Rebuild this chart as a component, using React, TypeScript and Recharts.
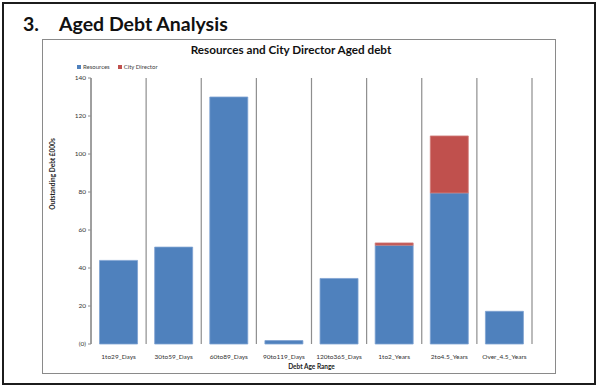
import React from "react";
import { BarChart, Bar, XAxis, YAxis, CartesianGrid } from "recharts";

const CATEGORIES = [
  "1to29_Days",
  "30to59_Days",
  "60to89_Days",
  "90to119_Days",
  "120to365_Days",
  "1to2_Years",
  "2to4.5_Years",
  "Over_4.5_Years",
];
const RESOURCES = [44, 51, 130, 1.8, 34.5, 52, 79.5, 17.2];
const CITY_DIRECTOR = [0, 0, 0, 0, 0, 1.2, 30, 0];
const Y_TICKS = [0, 20, 40, 60, 80, 100, 120, 140];
const BOUNDARY_TICKS = [0, 1, 2, 3, 4, 5, 6, 7, 8];

const BLUE = "#4f81bd";
const RED = "#c0504d";
const GRID = "#8e8e8e";
const FONT = "Lato, 'Open Sans', sans-serif";

const SERIES = [
  { key: "resources", name: "Resources", fill: BLUE, stroke: "#7fa2d2" },
  { key: "city", name: "City Director", fill: RED, stroke: "#d17e7b" },
];

const data = CATEGORIES.map((name, i) => ({
  name,
  resources: RESOURCES[i],
  city: CITY_DIRECTOR[i],
  pos: i + 0.5,
}));

const tickStyle = { fontFamily: FONT, fontSize: 6.5, fill: "#333" };

const YLabel = (props: any) => {
  const { viewBox } = props;
  const x = viewBox.x + 9;
  const y = viewBox.y + viewBox.height / 2 - 37;
  return (
    <text
      x={x}
      y={y}
      transform={`rotate(-90, ${x}, ${y})`}
      textAnchor="middle"
      dominantBaseline="central"
      style={{ fontFamily: FONT, fontSize: 6.5, fontWeight: 700, fill: "#222" }}
    >
      Outstanding Debt  £000s
    </text>
  );
};

const App: React.FC = () => {
  return (
    <div
      style={{
        position: "absolute",
        left: 0,
        top: 0,
        width: 598,
        height: 387,
        background: "#fff",
        fontFamily: FONT,
      }}
    >
      {/* slide frame */}
      <div
        style={{
          position: "absolute",
          left: 2,
          top: 2,
          width: 590,
          height: 379,
          border: "2px solid #1c1c1c",
        }}
      />
      <div
        style={{
          position: "absolute",
          left: 23,
          top: 12,
          fontSize: 19.5,
          fontWeight: 700,
          color: "#111",
          whiteSpace: "nowrap",
        }}
      >
        3.
      </div>
      <div
        style={{
          position: "absolute",
          left: 59,
          top: 12,
          fontSize: 19.5,
          fontWeight: 700,
          color: "#111",
          whiteSpace: "nowrap",
        }}
      >
        Aged Debt Analysis
      </div>

      {/* chart box */}
      <div
        style={{
          position: "absolute",
          left: 42,
          top: 39,
          width: 512,
          height: 333,
          border: "1px solid #8a8a8a",
        }}
      >
        <div
          style={{
            position: "absolute",
            left: 0,
            right: 16,
            top: 2,
            textAlign: "center",
            fontSize: 11.7,
            fontWeight: 700,
            color: "#111",
          }}
        >
          Resources and City Director Aged debt
        </div>
        <div
          style={{
            position: "absolute",
            left: 34,
            top: 23,
            display: "flex",
            gap: 8,
            fontSize: 6,
            color: "#404040",
            whiteSpace: "nowrap",
          }}
        >
          {SERIES.map((s) => (
            <span key={s.key} style={{ display: "flex", alignItems: "center" }}>
              <span
                style={{
                  display: "inline-block",
                  width: 4,
                  height: 4,
                  background: s.fill,
                  marginRight: 2,
                }}
              />
              {s.name}
            </span>
          ))}
        </div>
        <BarChart
          width={512}
          height={333}
          data={data}
          barCategoryGap="15.5%"
          margin={{ top: 38, right: 23, bottom: 0, left: 0 }}
        >
          <CartesianGrid
            xAxisId="grid"
            horizontal={false}
            stroke={GRID}
            strokeWidth={1.2}
          />
          <XAxis
            xAxisId="grid"
            type="number"
            dataKey="pos"
            domain={[0, 8]}
            ticks={BOUNDARY_TICKS}
            height={0}
            axisLine={{ stroke: BLUE, strokeWidth: 1.2 }}
            tickLine={{ stroke: GRID }}
            tickSize={3}
            tick={() => <g />}
          />
          <XAxis
            xAxisId="cat"
            dataKey="name"
            interval={0}
            axisLine={false}
            tickLine={false}
            tick={tickStyle}
            tickMargin={4}
            height={29}
            label={{
              value: "Debt Age Range",
              position: "insideBottom",
              offset: 4,
              style: {
                fontFamily: FONT,
                fontSize: 6.5,
                fontWeight: 700,
                fill: "#222",
              },
            }}
          />
          <YAxis
            domain={[0, 140]}
            ticks={Y_TICKS}
            width={48}
            axisLine={{ stroke: GRID, strokeWidth: 1.2 }}
            tickLine={{ stroke: GRID }}
            tickSize={3}
            tick={tickStyle}
            tickFormatter={(v: number) => (v === 0 ? "(0)" : String(v))}
            label={{ content: YLabel }}
          />
          {SERIES.map((s) => (
            <Bar
              key={s.key}
              xAxisId="cat"
              dataKey={s.key}
              name={s.name}
              stackId="a"
              fill={s.fill}
              stroke={s.stroke}
              strokeWidth={0.8}
              isAnimationActive={false}
            />
          ))}
        </BarChart>
      </div>
    </div>
  );
};

export default App;
